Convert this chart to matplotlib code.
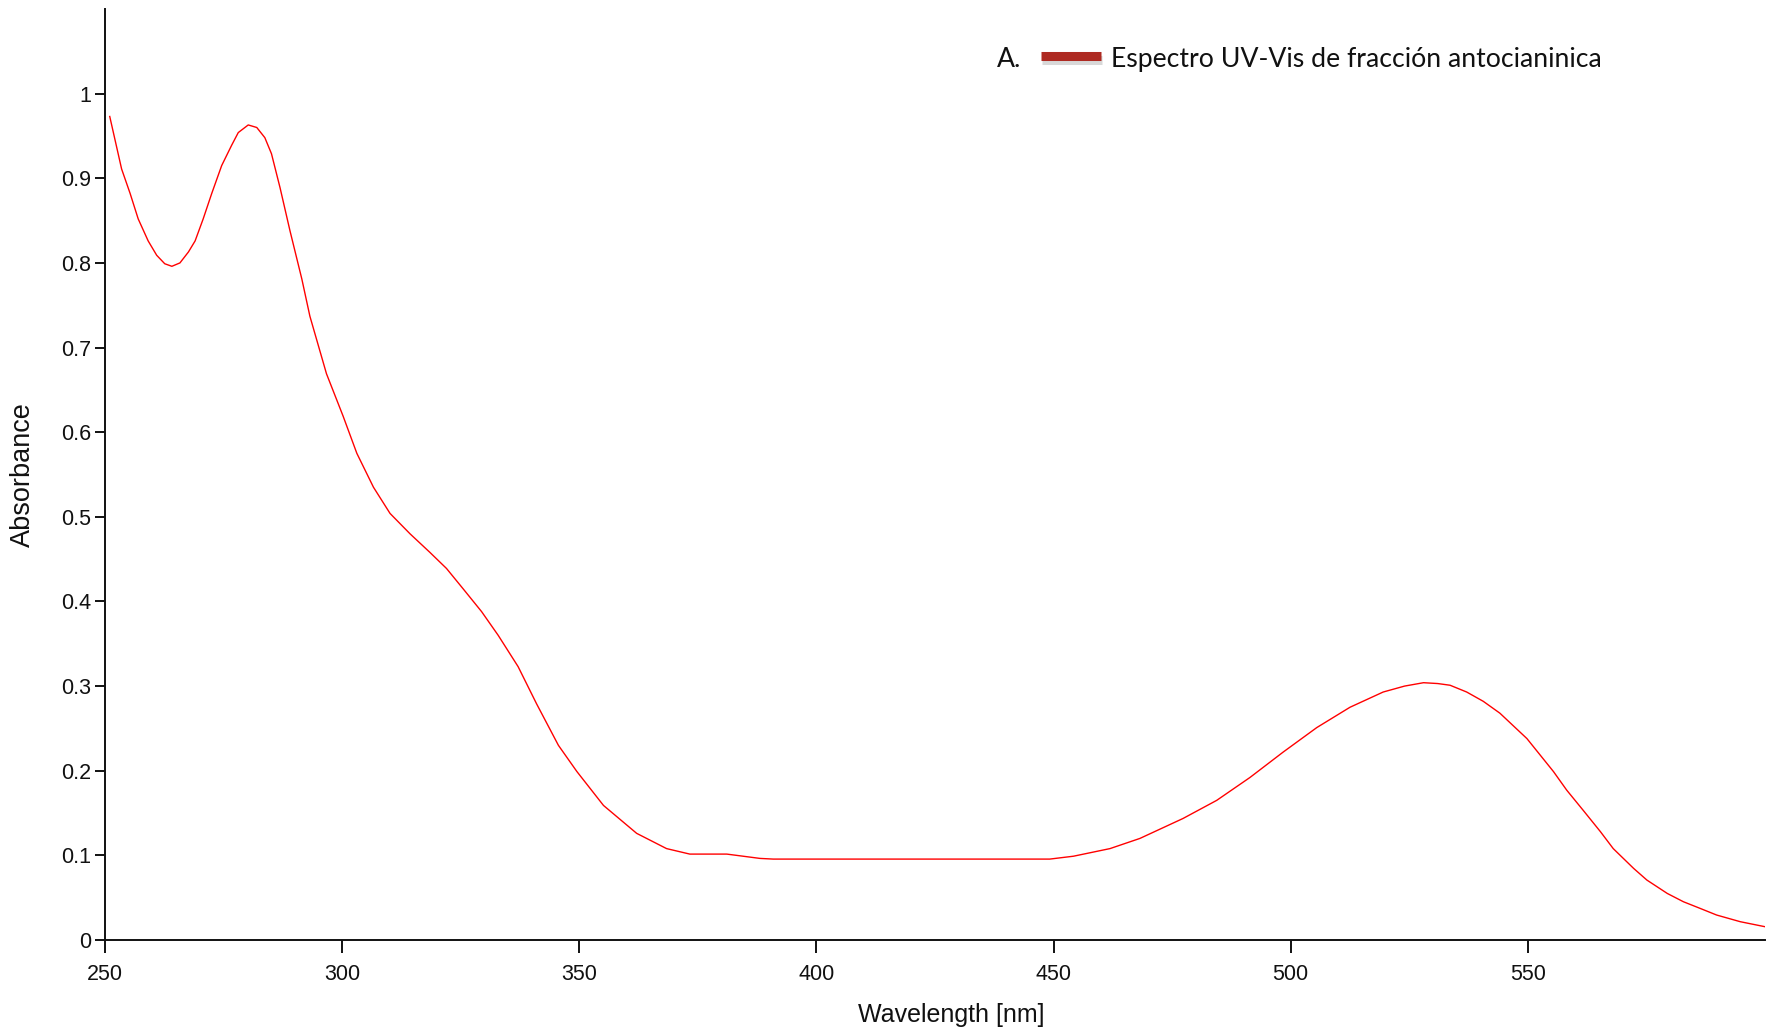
import numpy as np
import matplotlib
matplotlib.use("Agg")
import matplotlib.pyplot as plt
import matplotlib.patheffects as pe
from matplotlib.lines import Line2D

# spectrum
wavelength = [251.0, 253.5, 255.3, 257.0, 259.1, 260.9, 262.6, 264.1, 265.8, 267.6,
              269.0, 270.7, 272.5, 274.6, 276.7, 278.1, 280.2, 282.0, 283.7, 285.1,
              286.9, 289.0, 291.5, 293.2, 296.7, 300.2, 303.1, 306.6, 310.1, 314.3,
              318.5, 322.0, 325.5, 329.4, 332.9, 337.1, 341.0, 345.6, 349.5, 355.1,
              362.1, 368.4, 373.3, 381.1, 388.1, 390.9, 405.0, 420.0, 435.0, 449.2,
              454.2, 461.9, 468.2, 477.3, 484.4, 491.4, 498.4, 505.5, 512.5, 519.5,
              524.0, 528.0, 531.0, 533.6, 537.1, 540.6, 544.1, 549.8, 555.4,
              558.2, 561.7, 565.3, 568.0, 572.3, 575.1, 579.4, 582.8, 586.3, 589.8,
              594.8, 600.0]
absorbance = [0.973, 0.911, 0.882, 0.852, 0.826, 0.809, 0.799, 0.796, 0.800, 0.813,
              0.826, 0.852, 0.882, 0.915, 0.939, 0.954, 0.963, 0.960, 0.948, 0.929,
              0.889, 0.838, 0.781, 0.737, 0.669, 0.619, 0.575, 0.535, 0.504, 0.480,
              0.458, 0.439, 0.415, 0.388, 0.360, 0.323, 0.279, 0.230, 0.199, 0.159,
              0.126, 0.108, 0.1015, 0.1015, 0.0964, 0.0956, 0.0956, 0.0956, 0.0956, 0.0956,
              0.099, 0.108, 0.120, 0.1436, 0.165, 0.192, 0.222, 0.251, 0.275, 0.293,
              0.300, 0.304, 0.303, 0.301, 0.293, 0.282, 0.268, 0.238, 0.199,
              0.177, 0.153, 0.128, 0.108, 0.0846, 0.0708, 0.055, 0.0452, 0.0374, 0.0295,
              0.0216, 0.0157]

x_ticks = [250, 300, 350, 400, 450, 500, 550]
y_ticks = [0, 0.1, 0.2, 0.3, 0.4, 0.5, 0.6, 0.7, 0.8, 0.9, 1]
y_ticklabels = ["0", "0.1", "0.2", "0.3", "0.4", "0.5", "0.6", "0.7", "0.8", "0.9", "1"]

legend_prefix = "A."
legend_label = "Espectro UV-Vis de fracción antocianinica"

sans = ["Liberation Sans", "DejaVu Sans"]

fig = plt.figure(figsize=(17.71, 10.36), dpi=100)
ax = fig.add_axes([105 / 1771, 96 / 1036, 1660 / 1771, 931 / 1036])

ax.plot(wavelength, absorbance, color="#ff0000", lw=1.0)

ax.set_xlim(250, 600)
ax.set_ylim(0, 1.1)
ax.set_xticks(x_ticks)
ax.set_yticks(y_ticks)
ax.set_yticklabels(y_ticklabels)

for s in ["top", "right"]:
    ax.spines[s].set_visible(False)
for s in ["left", "bottom"]:
    ax.spines[s].set_linewidth(1.4)
    ax.spines[s].set_color("#111111")

ax.tick_params(axis="y", direction="out", length=7, width=1.4, pad=3, color="#111111")
ax.tick_params(axis="x", direction="out", length=9.5, width=1.4, pad=8, color="#111111")
for lab in ax.get_xticklabels() + ax.get_yticklabels():
    lab.set_fontfamily(sans)
    lab.set_fontsize(15.5)
    lab.set_color("#111111")

ax.set_xlabel("Wavelength [nm]", family=sans, fontsize=18, color="#111111")
ax.xaxis.set_label_coords(0.5096, -0.068)
ax.set_ylabel("Absorbance", family=sans, fontsize=19.5, color="#111111")
ax.yaxis.set_label_coords(-0.0415, 0.5)

# legend drawn by hand: "A." + thick line with shadow + label
fig.text(997 / 1771, 1 - 67 / 1036, legend_prefix, family=["Lato", "DejaVu Sans"],
         fontsize=19.2, va="baseline", ha="left", color="#111111")
leg_line = Line2D([1041 / 1771, 1101 / 1771], [1 - 56 / 1036, 1 - 56 / 1036],
                  transform=fig.transFigure, color="#ae2a22", lw=6.5, solid_capstyle="butt",
                  path_effects=[pe.SimpleLineShadow(offset=(0.5, -3), shadow_color="gray",
                                                    alpha=0.3),
                                pe.Normal()])
fig.add_artist(leg_line)
fig.text(1111 / 1771, 1 - 67 / 1036, legend_label, family=["Lato", "DejaVu Sans"],
         fontsize=19.2, va="baseline", ha="left", color="#111111")

fig.savefig("out.png", dpi=100)
